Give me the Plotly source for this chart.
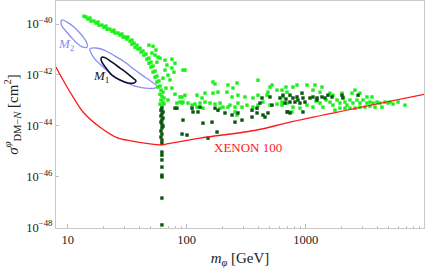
import numpy as np
import plotly.graph_objects as go

# ---------------- data (log10 values) ----------------
light_log_m = [
    1.137, 1.154, 1.171, 1.187, 1.196, 1.221, 1.238, 1.255, 1.263, 1.288,
    1.305, 1.322, 1.330, 1.355, 1.372, 1.389, 1.398, 1.423, 1.440, 1.456,
    1.465, 1.482, 1.498, 1.507, 1.524, 1.540, 1.540, 1.557, 1.566, 1.582,
    1.591, 1.608, 1.616, 1.633, 1.641, 1.658, 1.666, 1.683, 1.683, 1.700,
    1.700, 1.717, 1.717, 1.734, 1.734, 1.750, 1.750, 1.767, 1.759, 1.776,
    1.683, 1.717, 1.742, 1.708, 1.734, 1.759, 1.750, 1.776, 1.818, 1.876,
    1.902, 1.834, 1.876, 1.893, 1.818, 1.969, 1.843, 1.860, 1.801, 1.826,
    1.876, 1.843, 1.961, 1.961,
    1.784, 1.801, 1.776, 1.792, 1.809, 1.784, 1.801, 1.776, 1.792, 1.809,
    1.986, 2.221, 2.238, 2.347, 2.423, 2.599, 2.389, 2.263, 2.221, 2.154,
    2.087, 1.902, 1.986, 2.339, 2.381, 2.431, 2.490, 2.557, 2.599, 2.675,
    2.700, 2.717, 2.759, 2.801, 2.809, 1.969, 2.011, 2.070, 2.112, 2.154,
    2.196, 2.238, 2.280, 2.305, 2.364, 2.406, 2.431, 2.465, 2.507, 2.557,
    2.599, 2.641, 2.700, 2.759, 2.801, 2.843, 2.406, 2.423, 2.137, 2.087,
    2.045, 1.944, 1.918, 2.280, 2.347, 2.683, 2.834, 2.843, 1.944, 2.129,
    2.893, 2.927, 3.011, 3.078, 3.137, 3.061, 3.120, 3.204, 3.229, 3.305,
    3.313, 3.389, 3.456, 3.515, 3.557, 2.801, 2.893, 2.885, 2.952, 3.011,
    3.061, 3.120, 3.145, 3.204, 3.229, 3.263, 3.288, 3.330, 3.347, 3.372,
    3.397, 3.431, 3.456, 3.482, 3.515, 3.540, 3.566, 3.599, 3.624, 3.666,
    3.692, 3.330, 3.372, 3.414, 3.288, 3.246, 3.456, 3.498, 3.540, 3.582,
    3.641, 3.708, 3.834, 3.776, 3.734, 3.414, 3.171, 3.087,
]
light_log_sigma = [
    -39.69, -39.72, -39.80, -39.76, -39.88, -39.88, -39.96, -39.92, -40.04, -40.04,
    -40.12, -40.08, -40.20, -40.20, -40.28, -40.24, -40.35, -40.35, -40.43, -40.39,
    -40.51, -40.51, -40.59, -40.51, -40.67, -40.63, -40.79, -40.75, -40.91, -40.83,
    -40.98, -40.95, -41.10, -41.06, -41.22, -41.18, -41.38, -41.34, -41.54, -41.50,
    -41.69, -41.65, -41.89, -41.85, -42.09, -42.05, -42.28, -42.24, -42.48, -42.44,
    -40.83, -40.87, -41.02, -41.14, -41.22, -41.30, -41.50, -41.34, -41.42, -41.38,
    -41.54, -41.61, -41.73, -41.89, -41.81, -41.81, -42.01, -42.20, -42.13, -42.52,
    -42.52, -42.99, -42.87, -43.11,
    -42.60, -42.68, -42.76, -42.84, -42.91, -42.99, -43.07, -43.15, -43.23, -43.15,
    -41.81, -42.28, -42.36, -42.40, -42.32, -42.21, -42.52, -42.68, -42.72, -42.72,
    -42.80, -42.76, -42.80, -42.68, -42.87, -42.80, -42.87, -42.91, -42.80, -42.80,
    -42.48, -42.40, -42.60, -42.60, -42.87, -43.07, -43.11, -43.15, -43.11, -43.07,
    -43.11, -43.15, -43.11, -43.27, -43.19, -43.27, -43.11, -43.27, -43.19, -43.27,
    -43.19, -43.07, -43.19, -43.15, -43.19, -43.11, -43.46, -43.58, -43.31, -43.27,
    -43.19, -43.07, -43.11, -43.31, -43.27, -42.68, -42.48, -42.68, -42.87, -42.91,
    -42.48, -42.40, -42.40, -42.40, -42.48, -42.60, -42.68, -42.72, -42.80, -42.72,
    -42.87, -42.72, -42.72, -42.87, -42.87, -43.07, -43.27, -43.46, -43.31, -43.19,
    -43.27, -43.11, -43.27, -43.07, -43.19, -42.99, -43.11, -43.07, -43.19, -42.99,
    -43.11, -42.99, -43.11, -42.99, -43.11, -43.07, -43.11, -43.07, -43.11, -43.07,
    -43.11, -43.31, -43.31, -43.31, -43.31, -43.39, -43.27, -43.27, -43.23, -43.27,
    -43.27, -43.07, -43.19, -43.07, -43.15, -42.60, -42.99, -43.03,
]

dark_log_m = [
    1.792, 1.784, 1.801, 1.792, 1.784, 1.801, 1.792, 1.784, 1.792, 1.801,
    1.792, 1.784, 1.792, 1.784, 1.792, 1.792, 1.792, 1.792, 1.792, 1.792,
    1.792, 1.792, 1.792, 1.792,
    1.902, 1.969, 1.961, 2.003,
    1.918, 2.045, 2.053, 2.095, 2.238, 2.263, 2.322, 2.381, 2.431, 2.549,
    2.591, 2.616, 2.633, 2.700, 2.717, 2.683, 2.658, 2.549, 2.465, 2.406,
    2.137, 2.213, 2.255, 2.179, 2.784, 2.809, 2.826, 2.851, 2.112, 2.591,
    2.641,
    2.834, 2.868, 2.893, 2.927, 2.935, 2.969, 2.977, 2.994, 2.952, 2.910,
    2.868, 3.036, 3.061, 3.095, 3.137, 3.162, 3.187, 3.221, 3.305, 3.313,
    3.440, 2.843, 2.868, 2.977, 3.095,
]
dark_log_sigma = [
    -43.31, -43.39, -43.46, -43.54, -43.62, -43.70, -43.78, -43.86, -43.94, -44.02,
    -44.09, -44.21, -44.33, -44.45, -44.57, -44.69, -45.04, -45.16, -45.35, -45.63,
    -45.95, -46.02, -46.85, -47.91,
    -43.31, -43.78, -44.33, -44.37,
    -43.31, -43.31, -43.46, -43.46, -43.31, -43.39, -43.50, -43.58, -43.50, -43.39,
    -43.31, -43.11, -42.91, -42.87, -43.19, -43.50, -43.66, -43.66, -43.78, -43.86,
    -43.90, -43.86, -44.25, -44.49, -42.91, -42.80, -43.11, -43.46, -43.27, -43.50,
    -43.58,
    -42.95, -42.80, -42.91, -42.87, -42.99, -42.72, -42.91, -43.07, -43.11, -43.07,
    -43.07, -42.91, -42.87, -42.91, -42.87, -42.91, -42.80, -42.87, -42.80, -42.91,
    -42.80, -43.46, -43.50, -43.46, -42.99,
]

xenon_log_m = [0.902, 0.961, 1.036, 1.129, 1.272, 1.423, 1.498, 1.692, 1.792, 1.834,
               2.112, 2.591, 2.868, 4.002]
xenon_log_sigma = [-41.69, -42.20, -42.80, -43.46, -44.06, -44.49, -44.57, -44.72, -44.76,
                   -44.72, -44.49, -44.17, -43.86, -42.76]

m2_log_m = [0.952, 0.994, 1.045, 1.095, 1.137, 1.162, 1.162, 1.129, 1.078, 1.028, 0.986, 0.952, 0.944, 0.952]
m2_log_sigma = [-39.84, -39.92, -40.08, -40.31, -40.55, -40.75, -40.91, -40.91, -40.75, -40.51, -40.28, -40.08, -39.92, -39.84]

m1_outer_log_m = [1.187, 1.255, 1.322, 1.398, 1.482, 1.566, 1.650, 1.708, 1.750, 1.734,
                  1.650, 1.566, 1.498, 1.423, 1.355, 1.288, 1.229, 1.196, 1.187]
m1_outer_log_sigma = [-40.98, -40.95, -41.06, -41.26, -41.50, -41.81, -42.09, -42.28, -42.44, -42.52,
                      -42.52, -42.44, -42.32, -42.17, -41.93, -41.65, -41.38, -41.14, -40.98]

m1_inner_log_m = [1.288, 1.322, 1.372, 1.440, 1.498, 1.549, 1.574, 1.557, 1.507, 1.440,
                  1.372, 1.322, 1.288, 1.280, 1.288]
m1_inner_log_sigma = [-41.30, -41.34, -41.50, -41.73, -41.93, -42.13, -42.24, -42.32, -42.32, -42.20,
                      -42.01, -41.73, -41.50, -41.38, -41.30]

x_tick_vals = [10, 100, 1000]
x_tick_text = ["10", "100", "1000"]
y_tick_exps = [-48, -46, -44, -42, -40]

# ---------------- figure ----------------
def p10(a):
    return 10 ** np.array(a, dtype=float)

FONT = "Liberation Serif, Times New Roman, serif"
fig = go.Figure()

fig.add_trace(go.Scatter(x=p10(m2_log_m), y=p10(m2_log_sigma), mode="lines",
                         line=dict(color="#8c8cf2", width=1.3, shape="spline"), hoverinfo="skip"))
fig.add_trace(go.Scatter(x=p10(m1_outer_log_m), y=p10(m1_outer_log_sigma), mode="lines",
                         line=dict(color="#8c8cf2", width=1.3, shape="spline"), hoverinfo="skip"))
fig.add_trace(go.Scatter(x=p10(m1_inner_log_m), y=p10(m1_inner_log_sigma), mode="lines",
                         line=dict(color="#111133", width=1.6, shape="spline"), hoverinfo="skip"))

fig.add_trace(go.Scatter(x=p10(light_log_m), y=p10(light_log_sigma), mode="markers",
                         marker=dict(symbol="square", size=3.4, color="#19f019", line=dict(width=0))))
fig.add_trace(go.Scatter(x=p10(dark_log_m), y=p10(dark_log_sigma), mode="markers",
                         marker=dict(symbol="square", size=3.4, color="#0a560f", line=dict(width=0))))

fig.add_trace(go.Scatter(x=p10(xenon_log_m), y=p10(xenon_log_sigma), mode="lines",
                         line=dict(color="#ff1a1a", width=1.3, shape="spline", smoothing=0.8),
                         hoverinfo="skip"))

fig.add_annotation(x=2.213, y=-44.84, xref="x", yref="y", text="XENON 100", showarrow=False,
                   xanchor="left", yanchor="middle", font=dict(family=FONT, size=13, color="#ff1a1a"))
fig.add_annotation(x=0.994, y=-40.79, xref="x", yref="y", text="<i>M</i><sub>2</sub>", showarrow=False,
                   xanchor="center", yanchor="middle", font=dict(family=FONT, size=13, color="#8c8cf2"))
fig.add_annotation(x=1.283, y=-42.07, xref="x", yref="y", text="<i>M</i><sub>1</sub>", showarrow=False,
                   xanchor="center", yanchor="middle", font=dict(family=FONT, size=13, color="#111133"))

axis_common = dict(showline=True, mirror=True, linecolor="#c8c8c8", linewidth=1,
                   ticks="inside", tickcolor="#bdbdbd", showgrid=False, zeroline=False,
                   tickfont=dict(family=FONT, size=12.5, color="#222222"))

fig.update_xaxes(type="log", range=[0.902, 3.994], tickvals=x_tick_vals, ticktext=x_tick_text,
                 ticklen=4,
                 minor=dict(ticks="inside", ticklen=2.5, tickcolor="#bdbdbd",
                            tickvals=[20, 30, 40, 50, 60, 70, 80, 90, 200, 300, 400, 500, 600, 700,
                                      800, 900, 2000, 3000, 4000, 5000, 6000, 7000, 8000, 9000]),
                 title=dict(text="<i>m</i><sub><i>φ</i></sub> [GeV]", standoff=6,
                            font=dict(family=FONT, size=15, color="#222222")),
                 **axis_common)
fig.update_yaxes(type="log", range=[-48.03, -39.09],
                 tickvals=[10.0 ** e for e in y_tick_exps],
                 ticktext=["10<sup>−%d</sup>" % (-e) for e in y_tick_exps],
                 ticklen=3,
                 title=dict(text="<i>σ</i><sup><i>φ</i></sup><sub>DM−<i>N</i></sub> [cm<sup>2</sup>]",
                            standoff=4, font=dict(family=FONT, size=15, color="#222222")),
                 **axis_common)

fig.update_layout(width=425, height=271, margin=dict(l=56, r=1, t=1, b=43),
                  paper_bgcolor="white", plot_bgcolor="white", showlegend=False)

fig.write_html("out.html", config={"displayModeBar": False},
               post_script="document.body.style.margin='0px';document.body.style.padding='0px';"
                           "document.documentElement.style.overflow='hidden';")
